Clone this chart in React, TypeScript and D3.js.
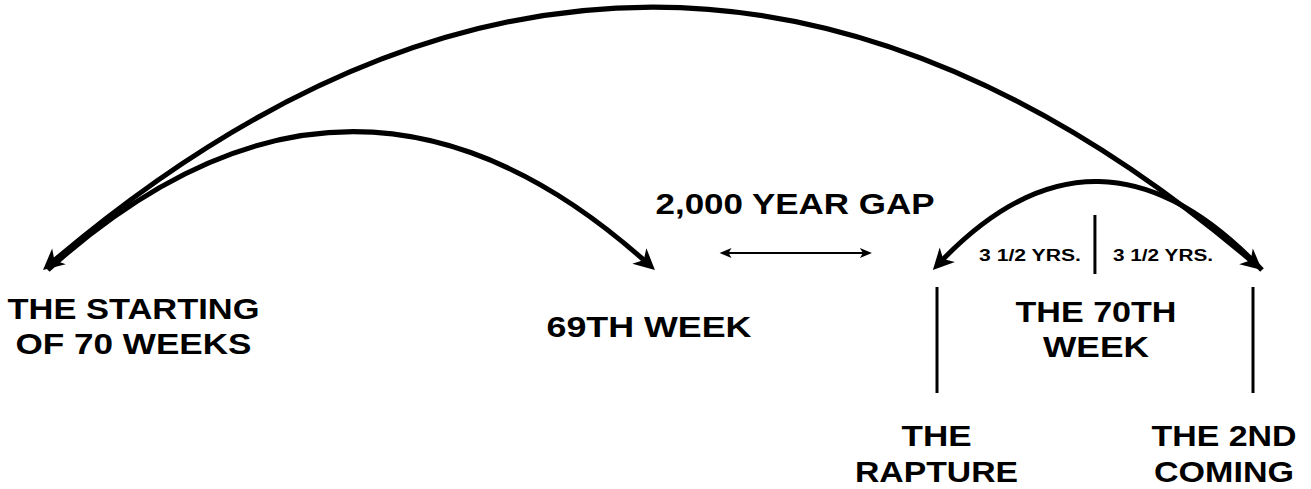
import React from "react";
import * as d3 from "d3";

const W = 1311;
const H = 489;

// Timeline events, in nominal timeline units (0 = start of the 70 weeks, 1000 = 2nd coming)
const eventNames = ["THE STARTING OF 70 WEEKS", "69TH WEEK", "THE RAPTURE", "THE 2ND COMING"];
const eventPos = [0, 502, 730, 1000];

// Arcs over the timeline: from / to (timeline units), apex height (0..100), arrowheads
const arcFrom = [0, 4, 1000];
const arcTo = [1000, 502, 730];
const arcHeight = [100, 52.6, 33.4];
const arcHeadStart = [true, false, false];
const arcHeadEnd = [true, true, true];

// Gap arrow (timeline units)
const gapFrom = [555];
const gapTo = [680];

// Label texts
const labelLines = [
  ["THE STARTING", "OF 70 WEEKS"],
  ["69TH WEEK"],
  ["THE", "RAPTURE"],
  ["THE 2ND", "COMING"],
  ["THE 70TH", "WEEK"],
  ["2,000 YEAR GAP"],
];
const halfLabels = ["3 1/2 YRS.", "3 1/2 YRS."];

// Layout (styling / placement) for text
const labelLayout = [
  { cx: 133.5, y: [318.5, 353.8], len: [252, 236] },
  { cx: 649, y: [337], len: [205] },
  { cx: 936.5, y: [445.5, 481.8], len: [70, 163] },
  { cx: 1224, y: [445.5, 481.8], len: [145, 140] },
  { cx: 1096, y: [321.8, 356.8], len: [161, 106] },
  { cx: 795, y: [213.8], len: [279] },
];
const halfLayout = [
  { cx: 1030, y: 260.5, len: 102 },
  { cx: 1163, y: 260.5, len: 100 },
];

const FONT = "'Liberation Sans', Arial, Helvetica, sans-serif";

export default function App() {
  const x = d3.scaleLinear().domain([0, 1000]).range([43, 1262]);
  const y = d3.scaleLinear().domain([0, 100]).range([270, 10]);

  const arcPath = (a: number, b: number, h: number, headStart: boolean, headEnd: boolean) => {
    const x0 = x(a);
    const x1 = x(b);
    const y0 = y(0);
    const cx = (x0 + x1) / 2;
    const cy = 2 * y(h) - y0;
    const back = 9;
    let sx = x0, sy = y0, ex = x1, ey = y0;
    if (headStart) {
      const dx = x0 - cx, dy = y0 - cy, L = Math.hypot(dx, dy);
      sx = x0 - (back * dx) / L;
      sy = y0 - (back * dy) / L;
    }
    if (headEnd) {
      const dx = x1 - cx, dy = y0 - cy, L = Math.hypot(dx, dy);
      ex = x1 - (back * dx) / L;
      ey = y0 - (back * dy) / L;
    }
    const p = d3.path();
    p.moveTo(sx, sy);
    p.quadraticCurveTo(cx, cy, ex, ey);
    return p.toString();
  };

  const rapX = 937;
  const secX = 1253;
  const midX = (x(eventPos[2]) + x(eventPos[3])) / 2;

  return (
    <svg
      width={W}
      height={H}
      viewBox={`0 0 ${W} ${H}`}
      style={{ position: "absolute", left: 0, top: 0, background: "#fff" }}
    >
      <defs>
        <marker
          id="ah"
          viewBox="-24 -13 26 26"
          markerWidth={26}
          markerHeight={26}
          markerUnits="userSpaceOnUse"
          refX={-9}
          refY={0}
          orient="auto-start-reverse"
        >
          <path d="M0,0 L-21,-10.5 L-15,0 L-21,10.5 Z" fill="#000" />
        </marker>
        <marker
          id="ahs"
          viewBox="-14 -7 16 14"
          markerWidth={16}
          markerHeight={14}
          markerUnits="userSpaceOnUse"
          refX={-4}
          refY={0}
          orient="auto-start-reverse"
        >
          <path d="M0,0 L-12,-5 L-9,0 L-12,5 Z" fill="#000" />
        </marker>
      </defs>
      <rect x={0} y={0} width={W} height={H} fill="#fff" />

      {arcFrom.map((a, i) => (
        <path
          key={`arc${i}`}
          d={arcPath(a, arcTo[i], arcHeight[i], arcHeadStart[i], arcHeadEnd[i])}
          fill="none"
          stroke="#000"
          strokeWidth={5}
          markerStart={arcHeadStart[i] ? "url(#ah)" : undefined}
          markerEnd={arcHeadEnd[i] ? "url(#ah)" : undefined}
        />
      ))}

      {gapFrom.map((g, i) => (
        <line
          key={`gap${i}`}
          x1={x(g) + 4}
          x2={x(gapTo[i]) - 4}
          y1={253}
          y2={253}
          stroke="#000"
          strokeWidth={2}
          markerStart="url(#ahs)"
          markerEnd="url(#ahs)"
        />
      ))}

      {/* Event tick lines */}
      <line x1={rapX} x2={rapX} y1={287} y2={393} stroke="#000" strokeWidth={3} />
      <line x1={secX} x2={secX} y1={287} y2={393} stroke="#000" strokeWidth={3} />
      <line x1={midX - 2.5} x2={midX - 2.5} y1={215} y2={274} stroke="#000" strokeWidth={3} />

      {labelLines.map((lines, i) =>
        lines.map((t, j) => (
          <text
            key={`l${i}-${j}`}
            x={labelLayout[i].cx}
            y={labelLayout[i].y[j]}
            textAnchor="middle"
            fontFamily={FONT}
            fontWeight="bold"
            fontSize={30}
            fill="#000"
            textLength={labelLayout[i].len[j]}
            lengthAdjust="spacingAndGlyphs"
          >
            {t}
          </text>
        ))
      )}

      {halfLabels.map((t, i) => (
        <text
          key={`h${i}`}
          x={halfLayout[i].cx}
          y={halfLayout[i].y}
          textAnchor="middle"
          fontFamily={FONT}
          fontWeight="bold"
          fontSize={16}
          fill="#000"
          textLength={halfLayout[i].len}
          lengthAdjust="spacingAndGlyphs"
        >
          {t}
        </text>
      ))}
      <title>{eventNames.join(" / ")}</title>
    </svg>
  );
}
